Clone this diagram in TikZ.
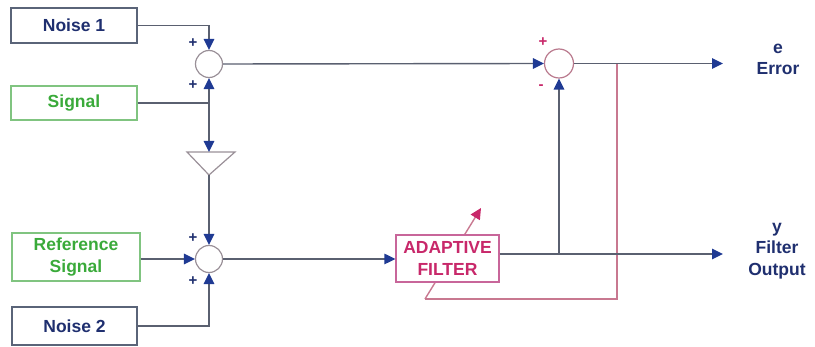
\documentclass[tikz,border=0pt]{standalone}
\usepackage{fontspec}
\setmainfont{Liberation Sans}
\usetikzlibrary{arrows.meta,backgrounds}
\definecolor{navy}{HTML}{1F2F6F}
\definecolor{arrowblue}{HTML}{1F3A93}
\definecolor{wire}{HTML}{5A6070}
\definecolor{boxgray}{HTML}{5A6478}
\definecolor{sgreen}{HTML}{3AAA3A}
\definecolor{gborder}{HTML}{80C480}
\definecolor{pinktext}{HTML}{C8286A}
\definecolor{pinkborder}{HTML}{C8669A}
\definecolor{pinkwire}{HTML}{C87890}
\definecolor{circgray}{HTML}{9A9098}
\begin{document}
\begin{tikzpicture}[x=1pt,y=-1pt,
  font=\fontsize{17.5}{21.5}\selectfont\bfseries,
  box/.style={draw=boxgray, line width=1.3pt, text=navy, inner sep=0pt, align=center},
  gbox/.style={box, draw=gborder, text=sgreen},
  fbox/.style={box, draw=pinkborder, text=pinktext, fill=white},
  sumnode/.style={circle, draw=circgray, line width=1.2pt, minimum size=27pt, inner sep=0pt},
  wirestyle/.style={draw=wire, line width=1.4pt},
  arr/.style={wirestyle, -{Triangle[length=11pt,width=10.5pt,color=arrowblue]}},
  sign/.style={font=\fontsize{15}{15}\selectfont\bfseries, text=navy, inner sep=0pt},
  psign/.style={sign, text=pinktext},
  lbl/.style={text=navy, align=center, inner sep=0pt}
]
\useasboundingbox (0,0) rectangle (815,347);

% input boxes
\node[box, minimum width=126pt, minimum height=35pt] (n1) at (74,25.5) {Noise 1};
\node[gbox, minimum width=126pt, minimum height=34pt] (sig) at (74,103) {Signal};
\node[gbox, minimum width=128pt, minimum height=48pt] (ref) at (76,257) {Reference\\Signal};
\node[box, minimum width=125pt, minimum height=38pt] (n2) at (74.5,326) {Noise 2};

% summing junctions
\node[sumnode] (s1) at (209,64) {};
\node[sumnode] (s2) at (209,259) {};
\node[sumnode, minimum size=29pt, draw=pinkwire!80!gray] (s3) at (559,63.5) {};

% signs
\node[sign] at (193,43) {+};
\node[sign] at (193,85) {+};
\node[sign] at (193,238) {+};
\node[sign] at (193,281) {+};
\node[psign] at (543,42) {+};
\node[psign] at (541,87) {-};

% gain triangle
\coordinate (amptop) at (209,152);
\coordinate (ampbot) at (209,175);
\draw[draw=circgray, line width=1.2pt] (187,152) -- (235,152) -- (ampbot) -- cycle;

% adaptive filter
\node[fbox, minimum width=103pt, minimum height=47pt] (flt) at (447.5,258.5) {ADAPTIVE\\FILTER};

% outputs
\coordinate (eout) at (723,63.5);
\coordinate (yout) at (723,254);
\coordinate (tap) at (617,63.5);
\coordinate (fbcorner) at (617,299);
\coordinate (fbend) at (425,299);
\coordinate (adapt) at (481,208);
\coordinate (ytap) at (559,254);
\node[lbl] (elbl) at (778,59.5) {e\\Error};
\node[lbl] (ylbl) at (777,251) {y\\Filter\\Output};

% connectors
\draw[arr] (n1.east) -| (s1.north);
\coordinate (j1) at (209,103);
\draw[wirestyle] (sig.east) -- (j1);
\draw[arr] (j1) -- (s1.south);
\draw[arr] (j1) -- (amptop);
\draw[arr] (ampbot) -- (s2.north);
\draw[arr] (ref.east |- s2.west) -- (s2.west);
\draw[arr] (n2.east) -| (s2.south);
\draw[arr] (s2.east) -- (flt.west |- s2.east);
\draw[arr] (s1.east) -- (s3.west);
\draw[arr] (s3.east) -- (eout);
\draw[arr] (flt.east |- yout) -- (yout);
\draw[arr] (ytap) -- (s3.south);

\begin{scope}[on background layer]
\draw[draw=pinkwire, line width=1.4pt] (tap) -- (fbcorner) -- (fbend);
\draw[draw=pinkwire, line width=1.4pt, -{Triangle[length=11pt,width=10.5pt,color=pinktext]}] (fbend) -- (adapt);
\end{scope}
\end{tikzpicture}
\end{document}
